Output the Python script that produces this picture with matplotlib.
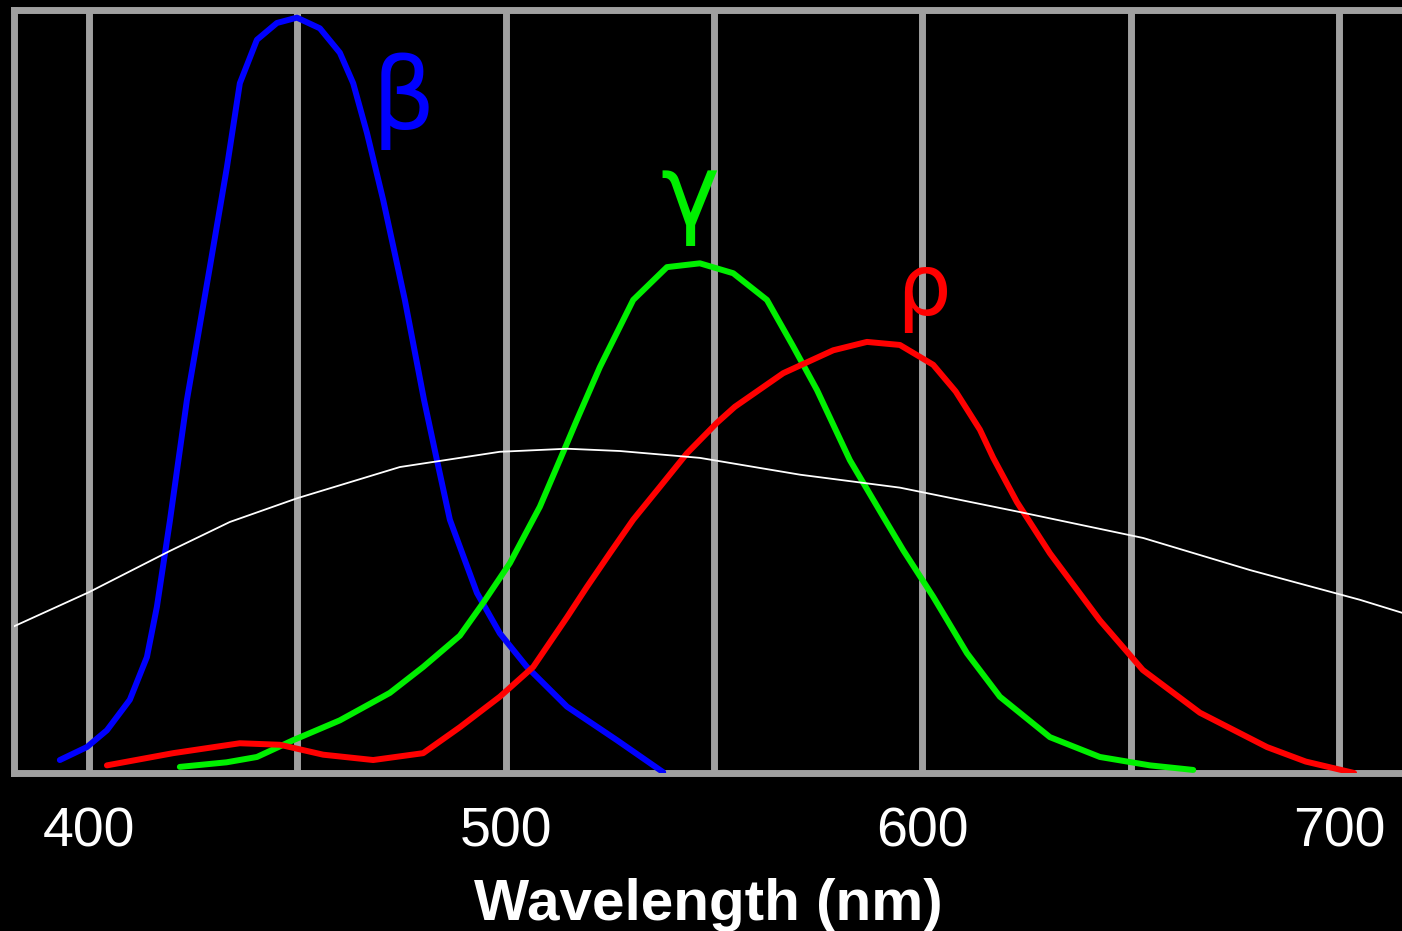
import matplotlib.pyplot as plt
from matplotlib.ticker import FixedLocator

# (wavelength nm, relative response)
blue_nm = [393, 399.5, 404.3, 409.8, 413.9, 416.3, 419.4, 423.5, 429, 433.1, 436.2, 440.3,
           445.1, 449.9, 455.4, 460.2, 463.4, 466.7, 470.6, 475.8, 480.4, 483.5, 486.6,
           493.1, 498.6, 505.1, 514.7, 526.7, 537.8]
blue_val = [0.017, 0.034, 0.056, 0.096, 0.152, 0.218, 0.330, 0.489, 0.663, 0.794, 0.904, 0.961,
            0.983, 0.990, 0.976, 0.944, 0.904, 0.839, 0.751, 0.620, 0.489, 0.410, 0.332,
            0.236, 0.183, 0.139, 0.087, 0.043, 0.001]

green_nm = [421.8, 433, 440.3, 449, 460.2, 472.2, 480.2, 489, 494.6, 501, 508.2, 514.7,
            517.1, 522.6, 530.6, 538.7, 546.6, 554.6, 562.7, 568.9, 574.7, 582.6, 590.6,
            595.4, 602.6, 610.7, 618.6, 630.6, 642.6, 654.6, 665]
green_val = [0.008, 0.014, 0.021, 0.043, 0.069, 0.105, 0.139, 0.180, 0.223, 0.275, 0.349, 0.432,
             0.463, 0.532, 0.620, 0.663, 0.668, 0.655, 0.620, 0.560, 0.502, 0.410, 0.336,
             0.292, 0.231, 0.157, 0.100, 0.047, 0.021, 0.010, 0.004]

red_nm = [404.3, 420.2, 436.2, 445.8, 456.2, 468.2, 480.2, 489, 498.6, 506.6, 514.7, 519.5,
          525, 530.6, 537, 543.5, 550.7, 555, 566.6, 578.6, 586.7, 594.6, 602.6, 608,
          613.8, 617, 622.7, 630.6, 642.6, 652.9, 666.6, 682.7, 692, 703.6]
red_val = [0.010, 0.026, 0.039, 0.037, 0.024, 0.017, 0.026, 0.060, 0.100, 0.139, 0.204, 0.244,
           0.288, 0.332, 0.375, 0.419, 0.459, 0.480, 0.524, 0.554, 0.565, 0.561, 0.535, 0.500,
           0.450, 0.413, 0.355, 0.288, 0.200, 0.135, 0.079, 0.034, 0.015, 0.0]

white_nm = [381.5, 400, 419.4, 433.8, 449.9, 474.6, 498.6, 514.7, 527.4, 546.6, 570.6,
            594.6, 623.4, 653, 678.6, 705, 715.1]
white_val = [0.191, 0.237, 0.291, 0.329, 0.360, 0.401, 0.421, 0.425, 0.422, 0.413, 0.391,
             0.374, 0.342, 0.308, 0.266, 0.227, 0.210]

major_ticks = [400, 500, 600, 700]
minor_ticks = [450, 550, 650]

grid_col = '#a0a0a0'

fig = plt.figure(figsize=(14.02, 9.31), dpi=100, facecolor='black')
ax = fig.add_axes([14 / 1402, 1 - 773 / 931, 1 - 14 / 1402, (773 - 10) / 931])
ax.set_facecolor('black')

line_kw = dict(lw=4.3, solid_capstyle='round', solid_joinstyle='round')
ax.plot(blue_nm, blue_val, color='#0000ff', zorder=3, **line_kw)
ax.plot(green_nm, green_val, color='#00f000', zorder=4, **line_kw)
ax.plot(red_nm, red_val, color='#ff0000', zorder=5, **line_kw)
ax.plot(white_nm, white_val, color='white', lw=1.3, zorder=6)

# hand drawn greek labels
ax.text(475.4, 0.880, 'β', color='#0000ff', fontsize=72, ha='center', va='center', zorder=7)
ax.text(544.2, 0.754, 'γ', color='#00f000', fontsize=72, ha='center', va='center', zorder=7)
ax.text(600.2, 0.631, 'ρ', color='#ff0000', fontsize=62, ha='center', va='center', zorder=7)

ax.set_xlim(382, 715.1)
ax.set_ylim(0, 1)

ax.xaxis.set_major_locator(FixedLocator(major_ticks))
ax.xaxis.set_minor_locator(FixedLocator(minor_ticks))
ax.set_yticks([])
ax.grid(True, which='both', axis='x', color=grid_col, lw=5, zorder=1)
ax.set_axisbelow(True)
ax.tick_params(axis='x', which='both', length=0, pad=24, labelsize=40,
               labelcolor='white')
for lab in ax.get_xticklabels():
    lab.set_fontfamily('Liberation Sans')

for side in ['left', 'top', 'bottom']:
    ax.spines[side].set_color(grid_col)
    ax.spines[side].set_linewidth(5)
ax.spines['right'].set_visible(False)

ax.set_xlabel('Wavelength (nm)', color='white', fontsize=42, fontweight='bold',
              family='Liberation Sans', labelpad=14)

fig.savefig('out.png', dpi=100, facecolor='black')
